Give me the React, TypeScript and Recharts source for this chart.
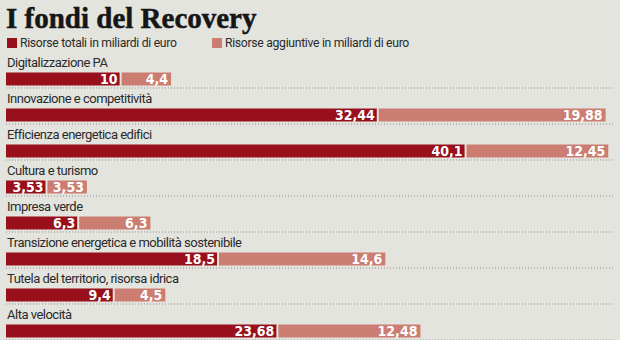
import { Bar, BarChart, LabelList, XAxis, YAxis } from 'recharts'

const categorie = [
  'Digitalizzazione PA',
  'Innovazione e competitività',
  'Efficienza energetica edifici',
  'Cultura e turismo',
  'Impresa verde',
  'Transizione energetica e mobilità sostenibile',
  'Tutela del territorio, risorsa idrica',
  'Alta velocità'
]
const risorseTotali = [10, 32.44, 40.1, 3.53, 6.3, 18.5, 9.4, 23.68]
const risorseAggiuntive = [4.4, 19.88, 12.45, 3.53, 6.3, 14.6, 4.5, 12.48]

const ROSSO = '#97101c'
const ROSA = '#cb7d72'
const SFONDO = '#e4e4df'
const FONT_TESTO = 'Roboto, "DejaVu Sans Condensed", sans-serif'
const FONT_VALORI = '"DejaVu Sans Condensed", "DejaVu Sans", sans-serif'

const W = 620
const H = 349
const margine = { top: 60.5, right: 6.6, bottom: 0.5, left: 6 }

const dati = categorie.map((nome, i) => ({
  nome,
  totali: risorseTotali[i],
  aggiuntive: risorseAggiuntive[i]
}))

const virgola = (v: any) => String(v).replace('.', ',')

const Segmento = (props: any) => {
  const { x, y, width, height, fill, inset } = props
  const dx = inset ? 1 : 0
  return <rect x={x + dx} y={y} width={Math.max(0, width - 1)} height={height} fill={fill} />
}

const Etichetta = (props: any) => {
  const { x, y, height, value } = props
  const yy = y + height + 2.5
  return (
    <g>
      <text
        x={x + 1}
        y={y - 5.5}
        fill="#2a2a2a"
        fontSize={13}
        fontFamily={FONT_TESTO}
        letterSpacing={-0.5}
      >
        {value}
      </text>
      <line
        x1={margine.left}
        x2={W - margine.right}
        y1={yy}
        y2={yy}
        stroke="#8e8e8a"
        strokeWidth={1}
        strokeDasharray="1 2"
      />
    </g>
  )
}

const Quadrato = ({ color }: { color: string }) => (
  <span
    style={{
      display: 'inline-block',
      width: 10,
      height: 10,
      background: color,
      marginRight: 3,
      verticalAlign: -1
    }}
  />
)

export default function App() {
  return (
    <div
      style={{
        position: 'relative',
        width: W,
        height: 340,
        overflow: 'hidden',
        background: SFONDO
      }}
    >
      <style>{'body{margin:0}'}</style>
      <div
        style={{
          position: 'absolute',
          left: 6,
          top: 1,
          fontFamily: '"Liberation Serif", serif',
          fontWeight: 'bold',
          fontSize: 29,
          color: '#161616',
          lineHeight: '34px',
          WebkitTextStroke: '0.5px #161616'
        }}
      >
        I fondi del Recovery
      </div>
      <div
        style={{
          position: 'absolute',
          left: 7,
          top: 35,
          fontFamily: FONT_TESTO,
          fontSize: 12.2,
          letterSpacing: -0.3,
          color: '#2a2a2a',
          lineHeight: '16px',
          whiteSpace: 'nowrap'
        }}
      >
        <Quadrato color={ROSSO} />
        <span style={{ display: 'inline-block', width: 192 }}>
          Risorse totali in miliardi di euro
        </span>
        <Quadrato color={ROSA} />
        <span>Risorse aggiuntive in miliardi di euro</span>
      </div>
      <div style={{ position: 'absolute', left: 0, top: 0 }}>
        <BarChart width={W} height={H} data={dati} layout="vertical" margin={margine} barSize={13}>
          <XAxis type="number" domain={[0, 53]} hide />
          <YAxis type="category" dataKey="nome" hide />
          <Bar
            dataKey="totali"
            stackId="a"
            fill={ROSSO}
            shape={<Segmento />}
            isAnimationActive={false}
          >
            <LabelList dataKey="nome" content={<Etichetta />} />
            <LabelList
              dataKey="totali"
              position="insideRight"
              offset={3}
              formatter={virgola}
              fill="#ffffff"
              fontSize={14}
              fontWeight="bold"
              fontFamily={FONT_VALORI}
            />
          </Bar>
          <Bar
            dataKey="aggiuntive"
            stackId="a"
            fill={ROSA}
            shape={<Segmento inset />}
            isAnimationActive={false}
          >
            <LabelList
              dataKey="aggiuntive"
              position="insideRight"
              offset={3}
              formatter={virgola}
              fill="#ffffff"
              fontSize={14}
              fontWeight="bold"
              fontFamily={FONT_VALORI}
            />
          </Bar>
        </BarChart>
      </div>
    </div>
  )
}
